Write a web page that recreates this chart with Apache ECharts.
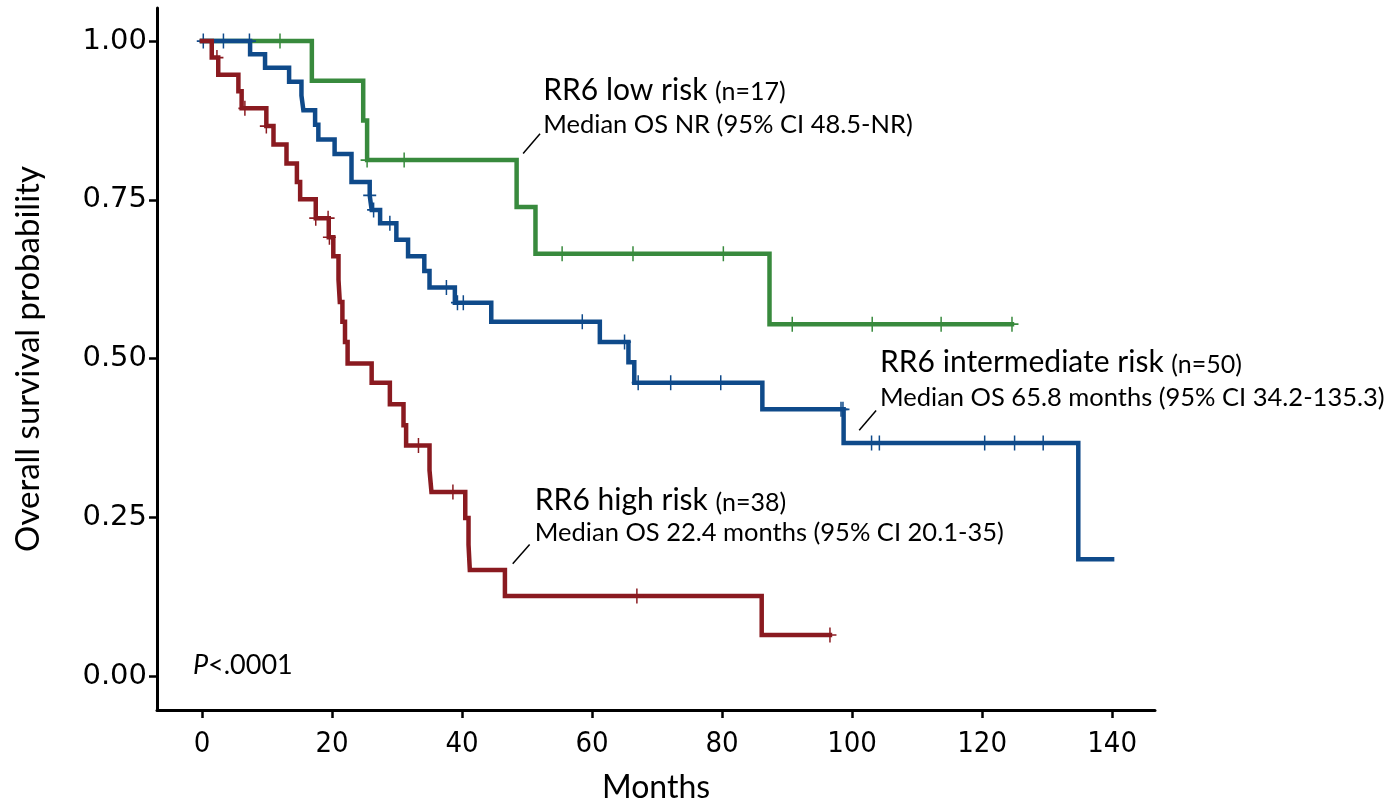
<!DOCTYPE html>
<html><head><meta charset="utf-8">
<script src="https://cdn.jsdelivr.net/npm/echarts@6/dist/echarts.min.js"></script>
<style>html,body{margin:0;padding:0;background:#fff}#c{width:1386px;height:800px}</style>
</head><body><div id="c"></div>
<script>
// ---------- data ----------
const xTicks = [0, 20, 40, 60, 80, 100, 120, 140];
const yTicks = [0, 0.25, 0.5, 0.75, 1];

const lowTimes = [0, 16.9, 24.8, 25.4, 48.4, 51.3, 87.3, 124.6];
const lowSurv  = [1, 0.9375, 0.875, 0.8125, 0.7386, 0.665, 0.554, 0.554];
const lowCensTimes = [12.0, 25.4, 31.1, 55.4, 66.3, 80.2, 90.8, 103.1, 113.7, 124.6];
const lowCensSurv  = [1, 0.8125, 0.8125, 0.665, 0.665, 0.665, 0.554, 0.554, 0.554, 0.554];

const intTimes = [0, 7.4, 9.7, 13.4, 15.3, 15.6, 17.4, 17.9, 20.4, 23.0, 25.8, 26.1, 27.4, 29.9, 31.7, 34.2, 35.0, 38.9, 44.5, 61.2, 65.6, 66.5, 86.2, 98.7, 134.8, 140.0];
const intSurv  = [1, 0.979, 0.958, 0.936, 0.914, 0.891, 0.868, 0.845, 0.822, 0.778, 0.757, 0.734, 0.713, 0.687, 0.661, 0.638, 0.612, 0.588, 0.558, 0.526, 0.494, 0.462, 0.42, 0.367, 0.184, 0.184];
const intCensTimes = [0.2, 3.3, 7.3, 25.8, 26.4, 28.9, 37.6, 39.3, 40.2, 58.5, 65.0, 67.1, 72.1, 79.8, 98.3, 98.6, 103.0, 104.2, 120.4, 125.0, 129.4];
const intCensSurv  = [1, 1, 1, 0.757, 0.734, 0.713, 0.612, 0.588, 0.588, 0.558, 0.526, 0.462, 0.462, 0.462, 0.42, 0.42, 0.367, 0.367, 0.367, 0.367, 0.367];

const highTimes = [0, 1.5, 2.5, 5.6, 6.1, 9.9, 11.0, 13.0, 14.6, 15.1, 17.5, 19.5, 20.2, 21.0, 21.2, 21.6, 22.0, 22.4, 26.1, 28.9, 31.0, 31.4, 35.0, 35.3, 40.5, 41.0, 41.2, 46.6, 86.1, 96.6];
const highSurv  = [1, 0.974, 0.947, 0.921, 0.894, 0.866, 0.837, 0.807, 0.778, 0.751, 0.721, 0.691, 0.661, 0.624, 0.589, 0.558, 0.526, 0.492, 0.462, 0.428, 0.395, 0.363, 0.324, 0.29, 0.249, 0.207, 0.167, 0.126, 0.0646, 0.0646];
const highCensTimes = [2.3, 6.6, 9.9, 17.5, 19.4, 19.6, 33.3, 38.6, 66.9, 96.6];
const highCensSurv  = [0.974, 0.894, 0.866, 0.721, 0.721, 0.691, 0.363, 0.29, 0.126, 0.0646];

const groupTitles = ['RR6 low risk', 'RR6 intermediate risk', 'RR6 high risk'];
const groupN = ['(n=17)', '(n=50)', '(n=38)'];
const groupMedians = ['Median OS NR (95% CI 48.5-NR)', 'Median OS 65.8 months (95% CI 34.2-135.3)', 'Median OS 22.4 months (95% CI 20.1-35)'];
const pText = ['P', '<.0001'];
const xTitle = 'Months';
const yTitle = 'Overall survival probability';

// ---------- styles / layout ----------
const C_LOW = '#388a3d', C_INT = '#0f4a8a', C_HIGH = '#8a1a20';
const TXT = 'Lato, "Noto Sans", sans-serif';
const NARROW = '"Liberation Sans Narrow", "DejaVu Sans Condensed", Lato, sans-serif';
// annotation anchors in data coords [x, yTitle, yMedian], leader lines [x1,y1,x2,y2]
const annAnchors = [[52.5, 0.923, 0.868], [104.3, 0.494, 0.438], [51.2, 0.277, 0.225]];
const annLines = [[49.4, 0.823, 52.0, 0.854], [101.1, 0.387, 103.7, 0.418], [47.8, 0.177, 50.4, 0.207]];

const pairs = (t, s) => t.map((v, i) => [v, s[i]]);
const plus = 'path://M5,0L5,10M0,5L10,5';
function km(name, t, s, color, z) {
  return { type: 'line', name, data: pairs(t, s), step: 'end', symbol: 'none', showSymbol: false,
    lineStyle: { color, width: 4.5, cap: 'square', join: 'miter' }, z, silent: true, animation: false };
}
function cens(t, s, color, z) {
  return { type: 'scatter', data: pairs(t, s), symbol: plus, symbolSize: [13, 15],
    itemStyle: { color: 'none', borderColor: color, borderWidth: 1.6, opacity: 1 }, z, silent: true, animation: false };
}

const chart = echarts.init(document.getElementById('c'), null, { renderer: 'canvas' });
chart.setOption({
  backgroundColor: '#fff',
  animation: false,
  grid: { left: 157, right: 231, top: 8, bottom: 90, containLabel: false, outerBoundsMode: 'none' },
  xAxis: {
    type: 'value', min: -6.92, max: 146.6,
    axisLine: { onZero: false, lineStyle: { color: '#000', width: 3 } },
    axisTick: { show: true, customValues: xTicks, length: 8, lineStyle: { color: '#000', width: 2.5 } },
    axisLabel: { customValues: xTicks, margin: 20, color: '#000', fontFamily: NARROW, fontSize: 29 },
    splitLine: { show: false },
    name: xTitle, nameLocation: 'middle', nameGap: 62,
    nameTextStyle: { color: '#000', fontFamily: TXT, fontSize: 32 }
  },
  yAxis: {
    type: 'value', min: -0.0535, max: 1.052,
    axisLine: { onZero: false, lineStyle: { color: '#000', width: 3 } },
    axisTick: { show: true, customValues: yTicks, length: 8, lineStyle: { color: '#000', width: 2.5 } },
    axisLabel: { customValues: yTicks, margin: 10, color: '#000', fontFamily: '"DejaVu Sans", sans-serif', fontSize: 29,
      formatter: v => v.toFixed(2) },
    splitLine: { show: false },
    name: yTitle, nameLocation: 'middle', nameGap: 112, nameRotate: 90,
    nameTextStyle: { color: '#000', fontFamily: TXT, fontSize: 33 }
  },
  series: [
    km('low', lowTimes, lowSurv, C_LOW, 2),
    cens(lowCensTimes, lowCensSurv, C_LOW, 3),
    km('int', intTimes, intSurv, C_INT, 4),
    cens(intCensTimes, intCensSurv, C_INT, 5),
    km('high', highTimes, highSurv, C_HIGH, 6),
    cens(highCensTimes, highCensSurv, C_HIGH, 7)
  ]
});

const px = (x, y) => chart.convertToPixel({ gridIndex: 0 }, [x, y]);
const elements = [];
annAnchors.forEach((a, i) => {
  const t = px(a[0], a[1]);
  const m = px(a[0], a[2]);
  elements.push({ type: 'text', x: t[0], y: t[1], silent: true,
    style: { text: '{a|' + groupTitles[i] + ' }{b|' + groupN[i] + '}', verticalAlign: 'middle', align: 'left',
      rich: { a: { fontFamily: TXT, fontSize: 30, fill: '#000', verticalAlign: 'bottom' }, b: { fontFamily: TXT, fontSize: 25, fill: '#000', verticalAlign: 'bottom' } } } });
  elements.push({ type: 'text', x: m[0], y: m[1], silent: true,
    style: { text: groupMedians[i], fontFamily: TXT, fontSize: 25.5, fill: '#000', verticalAlign: 'middle', align: 'left' } });
  const l = annLines[i];
  const p1 = px(l[0], l[1]), p2 = px(l[2], l[3]);
  elements.push({ type: 'line', silent: true, shape: { x1: p1[0], y1: p1[1], x2: p2[0], y2: p2[1] },
    style: { stroke: '#000', lineWidth: 1.5 } });
});
const pp = px(-1.4, 0.017);
elements.push({ type: 'text', x: pp[0], y: pp[1], silent: true,
  style: { text: '{i|' + pText[0] + '}{r|' + pText[1] + '}', verticalAlign: 'middle', align: 'left',
    rich: { i: { fontFamily: TXT, fontStyle: 'italic', fontSize: 27, fill: '#000' }, r: { fontFamily: TXT, fontSize: 27, fill: '#000' } } } });
chart.setOption({ graphic: { elements } });
</script>
</body></html>
